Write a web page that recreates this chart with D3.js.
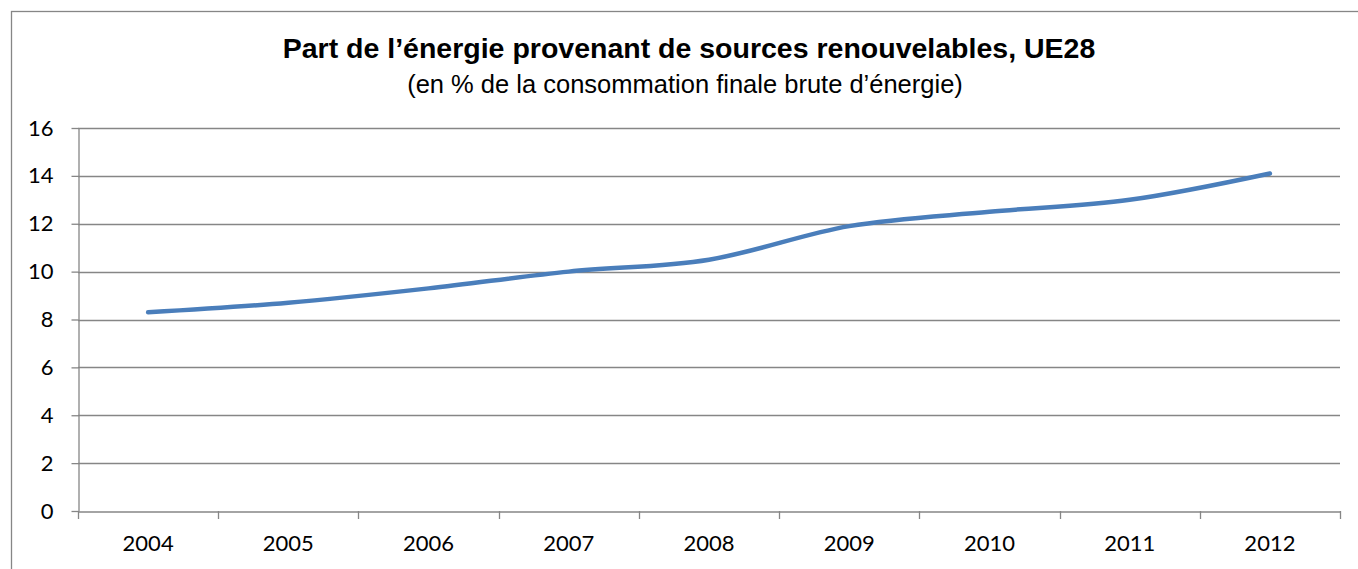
<!DOCTYPE html>
<html><head><meta charset="utf-8">
<script src="https://cdn.jsdelivr.net/npm/d3@7"></script>
<style>body{margin:0;background:#fff;overflow:hidden}svg{display:block}</style>
</head><body>
<svg id="c" width="1358" height="569"></svg>
<script>
const years = ["2004","2005","2006","2007","2008","2009","2010","2011","2012"];
const shares = [8.3, 8.7, 9.3, 10.0, 10.5, 11.9, 12.5, 13.0, 14.1];
const yTicks = [0,2,4,6,8,10,12,14,16];
const title = "Part de l’énergie provenant de sources renouvelables, UE28";
const subtitle = "(en % de la consommation finale brute d’énergie)";

const svg = d3.select("#c");
const L = 78, R = 1340, T = 128, B = 511;
svg.append("rect").attr("x",11.5).attr("y",11.5).attr("width",1400).attr("height",600)
  .attr("fill","none").attr("stroke","#868686").attr("stroke-width",1.3);

const x = d3.scaleBand().domain(years).range([L,R]);
const y = d3.scaleLinear().domain([0,16]).range([B,T]);
const tickFont = "Lato, 'Open Sans', sans-serif";

// gridlines
svg.append("g").selectAll("line").data(yTicks.filter(d=>d>0)).join("line")
  .attr("x1",L).attr("x2",R).attr("y1",d=>Math.round(y(d))+0.5).attr("y2",d=>Math.round(y(d))+0.5)
  .attr("stroke","#868686").attr("stroke-width",1.3);

// y axis
const ya = svg.append("g").attr("transform",`translate(${L+0.5},0)`)
  .call(d3.axisLeft(y).tickValues(yTicks).tickSize(7).tickPadding(18).tickSizeOuter(0));
ya.select(".domain").attr("stroke","#868686").attr("stroke-width",1.3);
ya.selectAll(".tick line").attr("stroke","#868686").attr("stroke-width",1.3);
ya.selectAll("text").attr("font-family",tickFont).attr("font-size",22).attr("fill","#000");

// x axis
const xa = svg.append("g").attr("transform",`translate(0,${Math.round(B)+0.5})`)
  .call(d3.axisBottom(x).tickSize(0).tickPadding(24));
xa.select(".domain").attr("stroke","#868686").attr("stroke-width",1.3);
xa.selectAll("text").attr("font-family",tickFont).attr("font-size",22).attr("fill","#000");
xa.selectAll(".tick line").remove();
const bounds = years.map(d=>x(d)).concat([R]);
svg.append("g").selectAll("line").data(bounds).join("line")
  .attr("x1",d=>Math.round(d)+0.5).attr("x2",d=>Math.round(d)+0.5)
  .attr("y1",B).attr("y2",B+8).attr("stroke","#868686").attr("stroke-width",1.3);

// line
const line = d3.line().x((d,i)=>x(years[i])+x.bandwidth()/2).y(d=>y(d))
  .curve(d3.curveMonotoneX);
svg.append("path").datum(shares).attr("d",line).attr("fill","none")
  .attr("stroke","#4a7ebb").attr("stroke-width",4.5).attr("stroke-linecap","round").attr("stroke-linejoin","round");

// titles
svg.append("text").attr("x",689).attr("y",58).attr("text-anchor","middle")
  .attr("font-family","'Liberation Sans', Arial, sans-serif").attr("font-weight","bold").attr("font-size",28.5)
  .text(title);
svg.append("text").attr("x",685).attr("y",93).attr("text-anchor","middle")
  .attr("font-family","'Liberation Sans', Arial, sans-serif").attr("font-size",25.5)
  .text(subtitle);
</script>
</body></html>
